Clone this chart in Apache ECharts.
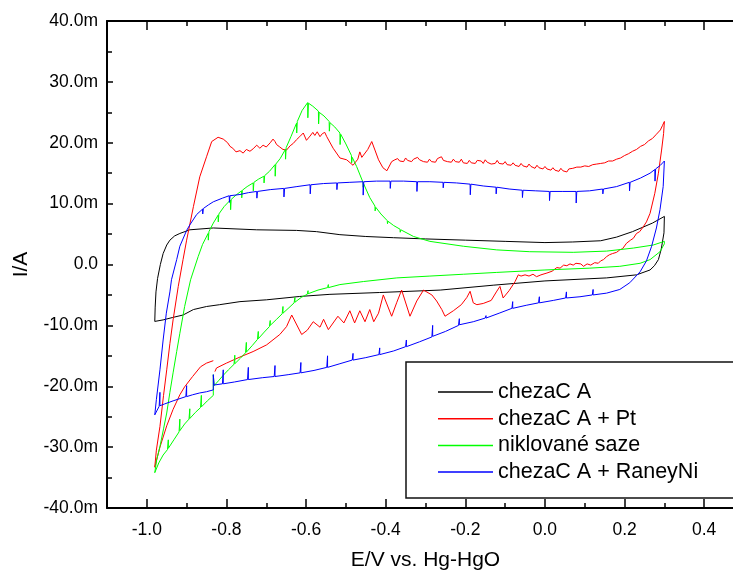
<!DOCTYPE html>
<html>
<head>
<meta charset="utf-8">
<script src="https://cdn.jsdelivr.net/npm/echarts@6/dist/echarts.min.js"></script>
<style>
html,body{margin:0;padding:0;background:#fff;}
#chart{width:733px;height:570px;}
</style>
</head>
<body>
<div id="chart"></div>
<script>
// ---------- axis ticks ----------
const xTicks = [-1.0, -0.8, -0.6, -0.4, -0.2, 0.0, 0.2, 0.4];
const xMinorTicks = [-0.9, -0.7, -0.5, -0.3, -0.1, 0.1, 0.3];
const yTicks = [-40, -30, -20, -10, 0, 10, 20, 30, 40];
const yTickLabels = ['-40.0m', '-30.0m', '-20.0m', '-10.0m', '0.0', '10.0m', '20.0m', '30.0m', '40.0m'];

const seriesNames = ['chezaC A', 'chezaC A + Pt', 'niklované saze', 'chezaC A + RaneyNi'];

// ---------- data: [E (V), I (mA)] ----------
// chezaC A
const blackAnodic = [
  [-0.980,-9.35],[-0.979,-7.0],[-0.977,-4.5],[-0.973,-2.3],[-0.966,0.0],[-0.959,1.8],[-0.950,3.2],
  [-0.942,4.0],[-0.930,4.7],[-0.917,5.1],[-0.892,5.7],[-0.833,6.0],[-0.724,5.7],[-0.624,5.6],
  [-0.574,5.4],[-0.515,4.9],[-0.450,4.6],[-0.380,4.4],[-0.300,4.2],[-0.200,4.0],[-0.100,3.8],
  [0.000,3.6],[0.070,3.7],[0.140,3.9],[0.180,4.5],[0.220,5.4],[0.270,6.8],[0.300,7.9]
];
const blackCathodic = [
  [0.299,5.2],[0.292,2.5],[0.285,0.8],[0.275,-0.2],[0.264,-0.9],[0.230,-1.7],[0.155,-2.2],
  [0.000,-2.7],[-0.130,-3.4],[-0.263,-4.2],[-0.415,-4.6],[-0.540,-4.9],[-0.616,-5.25],
  [-0.699,-5.8],[-0.766,-6.1],[-0.817,-6.6],[-0.850,-6.9],[-0.883,-7.4],[-0.909,-8.3],
  [-0.935,-8.7],[-0.959,-9.1],[-0.980,-9.35]
];

// chezaC A + Pt
const redCathodicTail = [
  [-0.833,-15.8],[-0.850,-16.2],[-0.865,-16.8],[-0.885,-18.4],[-0.905,-20.1],[-0.917,-21.4],
  [-0.934,-23.8],[-0.950,-26.5],[-0.967,-30.0],[-0.980,-33.3]
];
const redAnodic = [
  [-0.976,-30.5],[-0.967,-26.6],[-0.958,-21.5],[-0.950,-17.3],[-0.942,-13.0],[-0.934,-9.1],
  [-0.921,-3.6],[-0.909,0.8],[-0.900,4.0],[-0.883,9.5],[-0.867,14.4],[-0.850,17.7],[-0.837,20.2],
  [-0.821,20.9],[-0.808,20.6],[-0.797,20.0],[-0.791,19.4],[-0.784,19.1],[-0.776,18.5],[-0.766,18.7],
  [-0.758,18.3],[-0.750,18.9],[-0.741,18.6],[-0.733,19.0],[-0.724,19.6],[-0.716,19.1],[-0.708,19.6],
  [-0.700,19.3],[-0.690,20.0],[-0.683,20.6],[-0.678,20.2],[-0.674,19.7],[-0.666,19.3],[-0.658,18.9],
  [-0.649,18.8],[-0.640,19.5],[-0.632,19.9],[-0.624,20.5],[-0.616,21.0],[-0.607,21.6],[-0.599,20.4],
  [-0.590,21.1],[-0.583,21.7],[-0.578,21.2],[-0.572,21.8],[-0.565,21.0],[-0.559,21.5],[-0.553,21.7],
  [-0.548,21.0],[-0.544,20.7],[-0.532,19.1],[-0.515,17.5],[-0.498,17.2],[-0.482,16.3],[-0.477,16.2],
  [-0.470,17.3],[-0.465,18.5],[-0.460,17.6],[-0.456,17.8],[-0.445,18.9],[-0.435,20.2],[-0.427,18.8],
  [-0.418,17.2],[-0.407,15.9],[-0.397,15.4],[-0.385,16.9],[-0.377,17.2],
  [-0.370,17.4],[-0.365,17.0],[-0.360,17.3],[-0.355,16.9],[-0.350,17.5],[-0.345,17.1],[-0.340,17.4],
  [-0.335,16.9],[-0.330,17.3],[-0.325,17.0],[-0.320,17.6],[-0.315,17.2],[-0.310,17.5],[-0.305,16.9],
  [-0.300,17.2],[-0.295,16.8],[-0.290,17.3],[-0.285,16.9],[-0.280,17.1],[-0.275,16.8],[-0.270,17.4],
  [-0.265,17.2],[-0.260,17.7],[-0.255,17.1],[-0.250,17.3],[-0.245,16.9],[-0.240,17.1],[-0.235,16.8],
  [-0.230,17.3],[-0.225,16.9],[-0.220,17.2],[-0.215,16.8],[-0.210,17.3],[-0.205,16.7],[-0.200,17.0],
  [-0.195,16.6],[-0.190,17.1],[-0.185,16.7],[-0.180,17.0],[-0.175,16.6],[-0.170,17.1],[-0.165,16.8],
  [-0.160,17.0],[-0.155,16.6],[-0.150,17.2],[-0.145,16.8],[-0.140,17.0],[-0.135,16.5],[-0.130,16.8],
  [-0.125,16.6],[-0.120,17.1],[-0.115,16.6],[-0.110,16.9],[-0.105,16.5],[-0.100,16.9],[-0.095,16.4],
  [-0.090,16.7],[-0.085,16.3],[-0.080,16.7],[-0.075,16.3],[-0.070,16.5],[-0.065,16.1],[-0.060,16.6],
  [-0.055,16.2],[-0.050,16.4],[-0.045,16.0],[-0.040,16.5],[-0.035,16.1],[-0.030,16.2],[-0.025,15.8],
  [-0.020,16.3],[-0.015,15.9],[-0.010,16.1],[-0.005,15.7],[0.000,16.1],[0.005,15.7],[0.010,15.9],
  [0.015,15.5],[0.020,15.9],[0.025,15.5],[0.030,15.6],[0.035,15.3],[0.040,15.8],[0.045,15.4],
  [0.050,15.5],[0.055,15.2],[0.060,15.7],[0.065,15.4],[0.070,15.8],[0.075,15.5],[0.080,16.0],
  [0.085,15.7],[0.090,16.0],[0.095,15.7],[0.100,16.2],[0.105,15.9],[0.110,16.1],[0.115,15.9],
  [0.120,16.4],[0.125,16.1],[0.130,16.5],[0.135,16.2],[0.140,16.6],[0.145,16.3],[0.150,16.7],
  [0.155,16.5],[0.160,17.0],[0.165,16.7],[0.170,17.0],[0.175,16.8],[0.180,17.3],[0.185,17.1],
  [0.190,17.5],[0.195,17.3],[0.200,17.9],[0.205,17.7],[0.210,18.2],[0.215,18.1],[0.220,18.6],
  [0.225,18.5],[0.230,18.9],[0.235,18.8],[0.240,19.4],[0.245,19.3],[0.250,19.7],[0.255,19.9],
  [0.260,20.3],[0.265,20.2],[0.270,20.7],[0.275,21.0],[0.280,21.4],[0.285,21.6],[0.290,22.1],
  [0.295,22.8],[0.300,23.5]
];
const redCathodic = [
  [0.298,21.5],[0.293,18.8],[0.285,15.0],[0.276,11.7],[0.264,8.4],[0.255,7.0],[0.247,6.2],
  [0.238,5.4],[0.230,5.1],[0.222,4.3],[0.215,4.0],[0.205,3.5],[0.195,2.6],[0.188,2.4],
  [0.180,2.0],[0.170,1.8],[0.162,1.6],[0.155,1.3],[0.147,0.8],[0.140,0.6],[0.134,0.2],
  [0.125,0.3],[0.115,-0.1],[0.106,0.1],[0.097,-0.3],[0.090,0.1],[0.085,0.0],[0.078,0.2],
  [0.071,-0.1],[0.063,0.1],[0.055,-0.2],[0.047,-0.1],[0.038,-0.6],[0.030,-0.5],[0.025,-0.8],
  [0.018,-1.1],[0.013,-1.3],[0.005,-1.4],[0.000,-1.6],[-0.010,-1.7],[-0.021,-2.0],[-0.030,-1.6],
  [-0.040,-1.9],[-0.050,-1.7],[-0.060,-1.9],[-0.067,-1.7],[-0.075,-2.8],[-0.090,-4.3],
  [-0.105,-5.5],[-0.113,-3.6],[-0.122,-4.5],[-0.135,-5.9],[-0.155,-6.4],[-0.171,-6.6],
  [-0.180,-6.3],[-0.188,-4.4],[-0.196,-5.4],[-0.210,-6.6],[-0.230,-7.6],[-0.251,-8.5],
  [-0.259,-7.4],[-0.272,-6.0],[-0.284,-5.0],[-0.305,-4.2],[-0.322,-6.0],[-0.339,-8.5],
  [-0.360,-4.2],[-0.372,-6.2],[-0.385,-8.5],[-0.406,-5.0],[-0.418,-8.0],[-0.430,-9.4],
  [-0.440,-7.4],[-0.452,-9.4],[-0.465,-7.6],[-0.478,-9.6],[-0.490,-7.6],[-0.505,-9.6],
  [-0.520,-8.5],[-0.544,-10.7],[-0.556,-9.0],[-0.565,-10.3],[-0.582,-9.4],[-0.597,-10.8],
  [-0.611,-11.5],[-0.636,-8.3],[-0.649,-10.2],[-0.666,-11.5],[-0.699,-13.2],[-0.733,-14.3],
  [-0.766,-15.2],[-0.800,-16.2],[-0.825,-17.0],[-0.829,-17.6]
];

// niklované saze
const greenAnodic = [
  [-0.980,-34.2],[-0.975,-32.0],[-0.967,-29.9],[-0.958,-27.0],[-0.950,-24.4],[-0.942,-21.0],
  [-0.934,-17.8],[-0.925,-14.3],[-0.917,-11.3],[-0.905,-6.9],[-0.890,-2.5],[-0.871,1.3],[-0.860,3.3],
  [-0.846,5.1],[-0.8455,4.0],[-0.844,5.4],[-0.833,6.8],
  [-0.821,8.1],[-0.8205,7.0],[-0.819,8.3],[-0.806,9.5],
  [-0.790,10.6],[-0.7895,9.0],[-0.788,10.7],[-0.776,11.4],
  [-0.762,12.1],[-0.7615,10.95],[-0.760,12.2],[-0.748,12.8],
  [-0.733,13.4],[-0.7325,12.1],[-0.731,13.5],[-0.720,14.0],
  [-0.706,14.5],[-0.7055,13.4],[-0.704,14.6],[-0.692,15.3],
  [-0.678,16.4],[-0.6775,14.5],[-0.676,16.5],[-0.665,17.4],
  [-0.652,18.9],[-0.6515,17.3],[-0.650,19.2],[-0.638,21.0],
  [-0.624,23.2],[-0.6235,21.6],[-0.622,23.5],[-0.610,25.3],
  [-0.596,26.6],[-0.5955,24.1],[-0.594,26.5],[-0.583,26.0],
  [-0.569,25.2],[-0.5685,23.1],[-0.567,25.0],[-0.555,24.4],
  [-0.542,23.5],[-0.5415,21.9],[-0.540,23.3],[-0.528,22.6],
  [-0.515,21.6],[-0.5145,19.7],[-0.513,21.4],[-0.500,19.8],
  [-0.486,17.9],[-0.4855,16.7],[-0.484,17.6],[-0.473,16.1],
  [-0.457,13.5],[-0.4565,12.7],[-0.455,13.2],[-0.440,11.0],
  [-0.427,9.6],[-0.4265,8.8],[-0.425,9.4],[-0.412,8.3],
  [-0.396,7.2],[-0.3955,6.7],[-0.394,7.1],[-0.380,6.4],
  [-0.364,5.8],[-0.3635,5.3],[-0.362,5.7],
  [-0.330,4.6],[-0.289,3.8],[-0.205,3.0],[-0.121,2.4],[-0.038,2.1],[0.071,2.0],[0.155,2.2],
  [0.222,2.7],[0.272,3.2],[0.300,3.8]
];
const greenCathodic = [
  [0.300,3.4],[0.289,2.1],[0.264,0.8],[0.239,0.2],[0.188,-0.3],[0.113,-0.6],[0.000,-0.9],
  [-0.121,-1.3],[-0.205,-1.6],[-0.289,-1.9],[-0.372,-2.2],[-0.456,-2.8],[-0.515,-3.3],
  [-0.544,-3.8],[-0.544,-3.3],[-0.546,-3.8],[-0.570,-4.2],
  [-0.595,-4.8],[-0.595,-4.3],[-0.597,-4.9],[-0.612,-5.4],
  [-0.628,-6.2],[-0.628,-5.4],[-0.630,-6.3],[-0.643,-7.1],
  [-0.658,-8.0],[-0.658,-6.9],[-0.660,-8.1],[-0.674,-9.0],
  [-0.690,-10.0],[-0.690,-9.2],[-0.692,-10.2],[-0.705,-11.1],
  [-0.720,-12.2],[-0.720,-11.0],[-0.722,-12.3],[-0.735,-13.3],
  [-0.750,-14.4],[-0.750,-12.8],[-0.752,-14.5],[-0.765,-15.4],
  [-0.779,-16.3],[-0.779,-14.9],[-0.781,-16.4],[-0.795,-17.3],
  [-0.808,-18.2],[-0.820,-19.1],[-0.831,-19.9],[-0.833,-18.1],[-0.833,-21.5],[-0.848,-22.4],
  [-0.863,-23.4],[-0.863,-21.5],[-0.865,-23.5],[-0.878,-24.3],
  [-0.892,-25.3],[-0.892,-23.7],[-0.894,-25.4],[-0.905,-26.2],
  [-0.917,-27.3],[-0.917,-25.4],[-0.919,-27.5],[-0.932,-28.8],
  [-0.946,-30.2],[-0.946,-28.8],[-0.948,-30.4],
  [-0.959,-31.3],[-0.970,-32.6],[-0.980,-34.2]
];

// chezaC A + RaneyNi
const blueAnodic = [
  [-0.980,-24.7],[-0.976,-22.2],[-0.967,-17.3],[-0.959,-12.4],[-0.951,-8.0],[-0.942,-4.5],
  [-0.938,-2.5],[-0.925,0.8],[-0.917,3.0],[-0.900,5.6],[-0.892,6.5],[-0.875,8.2],
  [-0.860,9.1],[-0.8595,8.3],[-0.858,9.2],[-0.845,9.8],[-0.833,10.3],[-0.810,10.9],
  [-0.793,11.3],[-0.7925,10.2],[-0.791,11.3],[-0.766,11.5],[-0.745,11.8],
  [-0.724,12.0],[-0.7235,10.9],[-0.722,12.0],[-0.690,12.3],
  [-0.656,12.5],[-0.6555,11.1],[-0.654,12.5],[-0.623,12.8],
  [-0.590,13.1],[-0.5895,11.6],[-0.588,13.1],[-0.556,13.3],
  [-0.523,13.4],[-0.5225,12.3],[-0.521,13.4],[-0.490,13.5],
  [-0.457,13.6],[-0.4565,11.4],[-0.455,13.6],[-0.423,13.7],
  [-0.389,13.7],[-0.3885,12.5],[-0.387,13.7],[-0.355,13.7],
  [-0.322,13.6],[-0.3215,12.0],[-0.320,13.6],[-0.289,13.6],
  [-0.256,13.5],[-0.2555,12.6],[-0.254,13.5],[-0.222,13.4],
  [-0.188,13.2],[-0.1875,11.45],[-0.186,13.2],[-0.155,12.9],
  [-0.123,12.7],[-0.1225,11.6],[-0.121,12.7],[-0.090,12.4],
  [-0.057,12.2],[-0.0565,11.0],[-0.055,12.2],[-0.023,12.1],
  [0.011,12.0],[0.0115,10.5],[0.013,12.0],[0.045,12.0],
  [0.078,12.0],[0.0785,10.1],[0.080,12.0],[0.112,12.1],
  [0.145,12.4],[0.1455,11.6],[0.147,12.4],[0.180,12.8],
  [0.212,13.5],[0.2125,12.1],[0.214,13.5],[0.240,14.2],[0.264,15.0],
  [0.276,15.6],[0.2765,13.7],[0.278,15.7],[0.290,16.3],[0.300,17.0]
];
const blueCathodic = [
  [0.297,12.8],[0.289,9.0],[0.280,6.0],[0.268,3.0],[0.255,0.6],[0.239,-1.2],[0.213,-3.0],
  [0.188,-4.1],[0.155,-4.7],
  [0.121,-5.0],[0.121,-4.1],[0.119,-5.0],[0.088,-5.3],
  [0.054,-5.5],[0.054,-4.5],[0.052,-5.5],[0.021,-5.9],
  [-0.014,-6.3],[-0.014,-5.3],[-0.016,-6.3],[-0.047,-6.7],
  [-0.081,-7.2],[-0.081,-6.1],[-0.083,-7.2],[-0.115,-8.0],
  [-0.148,-8.8],[-0.148,-8.4],[-0.150,-8.8],[-0.180,-9.4],
  [-0.215,-9.9],[-0.215,-8.9],[-0.217,-10.0],[-0.250,-11.0],
  [-0.282,-11.8],[-0.282,-10.0],[-0.284,-11.9],[-0.315,-12.7],
  [-0.348,-13.5],[-0.348,-12.4],[-0.350,-13.5],[-0.380,-14.2],
  [-0.415,-14.8],[-0.415,-13.7],[-0.417,-14.8],[-0.450,-15.3],
  [-0.482,-15.7],[-0.482,-14.6],[-0.484,-15.7],[-0.515,-16.3],
  [-0.546,-16.9],[-0.546,-15.0],[-0.548,-16.9],[-0.580,-17.4],
  [-0.613,-17.8],[-0.613,-16.1],[-0.615,-17.8],[-0.645,-18.1],
  [-0.678,-18.4],[-0.678,-16.6],[-0.680,-18.4],[-0.710,-18.6],
  [-0.745,-18.9],[-0.745,-16.9],[-0.747,-18.9],[-0.780,-19.3],
  [-0.808,-19.6],[-0.808,-17.3],[-0.810,-19.6],[-0.831,-19.8],
  [-0.833,-18.1],[-0.833,-20.6],[-0.850,-20.9],[-0.867,-21.1],[-0.885,-21.4],
  [-0.900,-21.7],[-0.900,-19.9],[-0.902,-21.7],[-0.934,-22.4],[-0.955,-22.9],
  [-0.967,-23.2],[-0.967,-21.0],[-0.969,-23.3],[-0.980,-24.7]
];

// ---------- chart ----------
const FONT = "'Liberation Sans', Arial, sans-serif";
const colors = ['#000000', '#ff0000', '#00ff00', '#0000ff'];
const seriesData = [
  blackAnodic.concat(blackCathodic),
  redCathodicTail.concat(redAnodic, redCathodic),
  greenAnodic.concat(greenCathodic),
  blueAnodic.concat(blueCathodic)
];

const axisLineStyle = { color: '#000', width: 2 };
const tickLineStyle = { color: '#000', width: 1.5 };

function xAxisDef(position, ticks, len, showLine, showLabel, extra) {
  return Object.assign({
    type: 'value', position: position, min: -1.1, max: 0.5,
    axisLine: { show: showLine, onZero: false, lineStyle: axisLineStyle },
    axisTick: { show: true, inside: true, length: len, customValues: ticks, lineStyle: tickLineStyle },
    axisLabel: { show: showLabel, customValues: ticks, formatter: v => Number(v).toFixed(1),
                 fontSize: 17.5, color: '#000', fontFamily: FONT, margin: 13 },
    splitLine: { show: false }
  }, extra || {});
}

const option = {
  animation: false,
  backgroundColor: '#fff',
  grid: { left: 107, top: 21, width: 637, height: 487, outerBoundsMode: 'none', containLabel: false },
  xAxis: [
    xAxisDef('bottom', xTicks, 9, true, true, {
      name: 'E/V vs. Hg-HgO', nameLocation: 'middle', nameGap: 41.5, nameMoveOverlap: false,
      nameTextStyle: { fontSize: 21, color: '#000', fontFamily: FONT }
    }),
    xAxisDef('top', xTicks, 9, true, false),
    xAxisDef('bottom', xMinorTicks, 5, false, false),
    xAxisDef('top', xMinorTicks, 5, false, false)
  ],
  yAxis: [{
    type: 'value', position: 'left', min: -40, max: 40, interval: 10,
    axisLine: { show: true, onZero: false, lineStyle: axisLineStyle },
    axisTick: { show: true, inside: true, length: 6, lineStyle: tickLineStyle },
    minorTick: { show: true, splitNumber: 2, length: 5, lineStyle: tickLineStyle },
    axisLabel: { formatter: v => { const k = yTicks.indexOf(Math.round(v)); return k >= 0 ? yTickLabels[k] : ''; },
                 fontSize: 17.5, color: '#000', fontFamily: FONT, margin: 9 },
    splitLine: { show: false },
    name: 'I/A', nameLocation: 'middle', nameGap: 75, nameMoveOverlap: false,
    nameTextStyle: { fontSize: 21, color: '#000', fontFamily: FONT }
  }],
  legend: {
    orient: 'vertical', left: 406, top: 362,
    icon: 'rect', itemWidth: 55, itemHeight: 1.5, itemGap: 4.7,
    padding: [19, 60, 15, 32],
    borderColor: '#111', borderWidth: 1.5,
    selectedMode: false,
    textStyle: { fontSize: 21.5, color: '#000', fontFamily: FONT, lineHeight: 21 },
    data: seriesNames
  },
  series: seriesNames.map((name, i) => ({
    name: name, type: 'line', xAxisIndex: 0, yAxisIndex: 0,
    data: seriesData[i], symbol: 'none', showSymbol: false, clip: true,
    lineStyle: { color: colors[i], width: 1 }, itemStyle: { color: colors[i] },
    emphasis: { disabled: true }
  }))
};

const chart = echarts.init(document.getElementById('chart'), null, { renderer: 'canvas' });
chart.setOption(option);
</script>
</body>
</html>
